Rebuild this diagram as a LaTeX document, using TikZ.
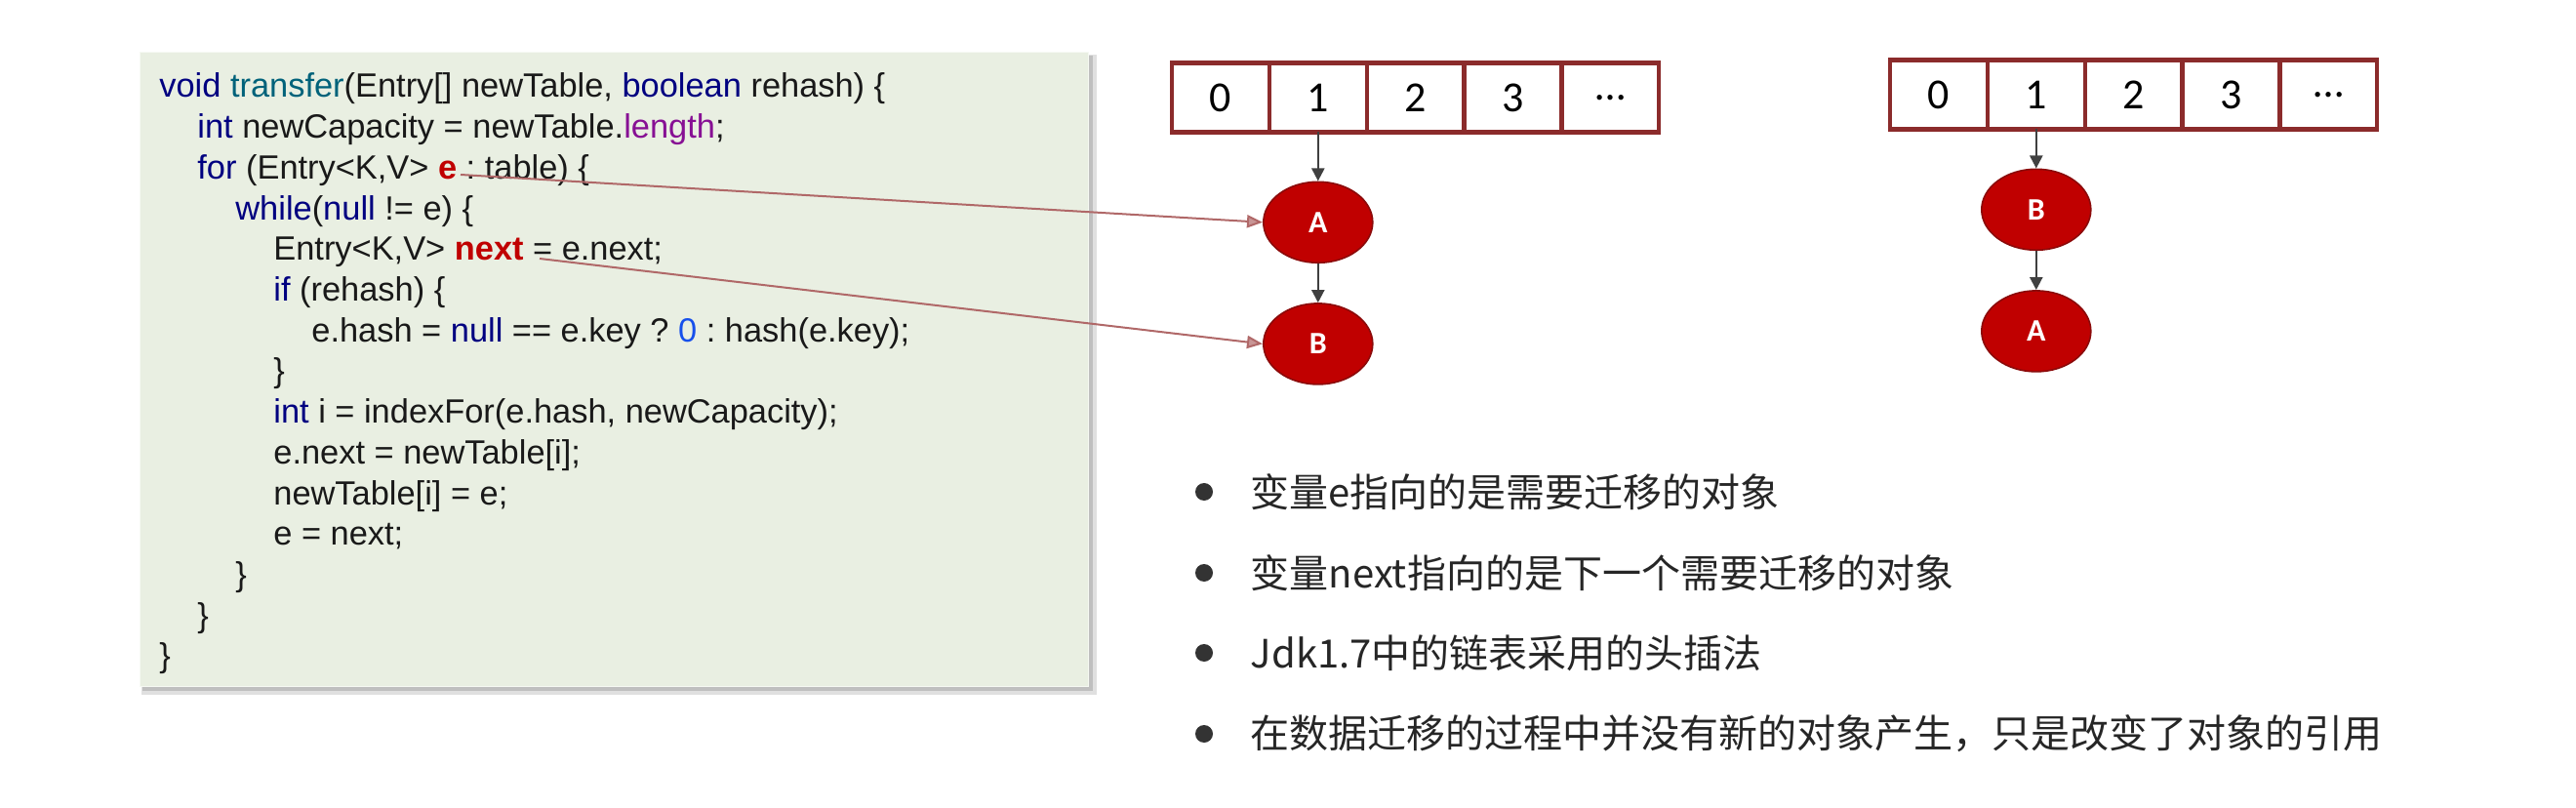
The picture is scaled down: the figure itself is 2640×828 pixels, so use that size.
\documentclass[tikz,border=0pt]{standalone}
\usepackage{fontspec}
\setmainfont{Liberation Sans}
\newfontfamily\cjk{Noto Sans CJK SC}
\newfontfamily\calib{Carlito}
\usepackage{xcolor}
\usetikzlibrary{shapes.geometric,positioning,arrows.meta}
\frenchspacing

\definecolor{codebg}{HTML}{E9EFE2}
\definecolor{kwblue}{HTML}{000080}
\definecolor{fnteal}{HTML}{00627A}
\definecolor{fieldpurple}{HTML}{871094}
\definecolor{numblue}{HTML}{1750EB}
\definecolor{varred}{HTML}{C00000}
\definecolor{arrred}{HTML}{8B2B2B}
\definecolor{entryred}{HTML}{C00000}
\definecolor{entryborder}{HTML}{8B0A0A}
\definecolor{ptrred}{HTML}{B06868}
\definecolor{linkgray}{HTML}{404040}

\newcommand{\kw}[1]{\textcolor{kwblue}{#1}}
\newcommand{\varhl}[1]{\textcolor{varred}{\bfseries #1}}

\tikzset{
  codeline/.style={anchor=base west, inner sep=0pt, text=black!90, font=\fontsize{17.2}{20}\selectfont},
  cellbox/.style={draw=arrred, line width=2.2pt, outer sep=0pt, minimum width=49.9pt, minimum height=35.5pt, inner sep=0pt, font=\calib\fontsize{22}{22}\selectfont},
  entry/.style={ellipse, draw=entryborder, line width=0.8pt, fill=entryred, minimum width=56pt, minimum height=41.5pt, inner sep=0pt, text=white, font=\calib\bfseries\fontsize{16}{16}\selectfont},
  link/.style={-{Triangle[length=6.5pt,width=6.5pt]}, draw=linkgray, line width=1.1pt},
  pointer/.style={-{Triangle[length=8pt,width=6.5pt,fill=ptrred!70]}, draw=ptrred, line width=1pt},
  bullet/.style={circle, fill=black!80, minimum size=9pt, inner sep=0pt},
  note/.style={anchor=west, inner sep=0pt, text=black!85, font=\cjk\fontsize{20}{20}\selectfont}
}

\begin{document}
\begin{tikzpicture}[x=0.5pt, y=-0.5pt]
    \useasboundingbox (0,0) rectangle (2640,828);

    % code panel
    \fill[black!12] (145,56) rectangle (1124,712);
    \fill[black!25] (146,57) rectangle (1120,708);
    \fill[codebg, draw=white!60!codebg] (143,53) rectangle (1115,703);

    \node[codeline] (code1)  at (163,100)   {\kw{void} \textcolor{fnteal}{transfer}(Entry[] newTable, \kw{boolean} rehash) \{};
    \node[codeline] (code2)  at (202,141.7) {\kw{int} newCapacity = newTable.\textcolor{fieldpurple}{length};};
    \node[codeline] (code3)  at (202,183.4) {\kw{for} (Entry<K,V> \varhl{e} : table) \{};
    \node[codeline] (code4)  at (241,225.1) {\kw{while}(\kw{null} != e) \{};
    \node[codeline] (code5)  at (280,266.8) {Entry<K,V> \varhl{next} = e.next;};
    \node[codeline] (code6)  at (280,308.5) {\kw{if} (rehash) \{};
    \node[codeline] (code7)  at (319,350.2) {e.hash = \kw{null} == e.key ? \textcolor{numblue}{0} : hash(e.key);};
    \node[codeline] (code8)  at (280,391.9) {\}};
    \node[codeline] (code9)  at (280,433.6) {\kw{int} i = indexFor(e.hash, newCapacity);};
    \node[codeline] (code10) at (280,475.3) {e.next = newTable[i];};
    \node[codeline] (code11) at (280,517)   {newTable[i] = e;};
    \node[codeline] (code12) at (280,558.7) {e = next;};
    \node[codeline] (code13) at (241,600.4) {\}};
    \node[codeline] (code14) at (202,642.1) {\}};
    \node[codeline] (code15) at (163,683.8) {\}};

    \coordinate (eptr) at (472,179);
    \coordinate (nextptr) at (553,265);

    % table before transfer
    \foreach \lab [count=\i from 0] in {0,1,2,3,\ldots}
        \node[cellbox] (old\i) at ({1251+99.8*\i},100) {\lab};
    \node[entry, below=25pt of old1] (oldA) {A};
    \node[entry, below=20pt of oldA] (oldB) {B};
    \draw[link] (old1) -- (oldA);
    \draw[link] (oldA) -- (oldB);

    \draw[pointer] (eptr) -- (oldA.west);
    \draw[pointer] (nextptr) -- (oldB.west);

    % table after transfer
    \foreach \lab [count=\i from 0] in {0,1,2,3,\ldots}
        \node[cellbox] (new\i) at ({1987+99.8*\i},97) {\lab};
    \node[entry, below=20pt of new1] (newB) {B};
    \node[entry, below=20pt of newB] (newA) {A};
    \draw[link] (new1) -- (newB);
    \draw[link] (newB) -- (newA);

    % notes
    \node[bullet] (dot1) at (1234,504) {};
    \node[bullet] (dot2) at (1234,587) {};
    \node[bullet] (dot3) at (1234,669) {};
    \node[bullet] (dot4) at (1234,752) {};
    \node[note, right=19pt of dot1] (note1) {变量e指向的是需要迁移的对象};
    \node[note, right=19pt of dot2] (note2) {变量next指向的是下一个需要迁移的对象};
    \node[note, right=19pt of dot3] (note3) {Jdk1.7中的链表采用的头插法};
    \node[note, right=19pt of dot4] (note4) {在数据迁移的过程中并没有新的对象产生，只是改变了对象的引用};
\end{tikzpicture}
\end{document}
